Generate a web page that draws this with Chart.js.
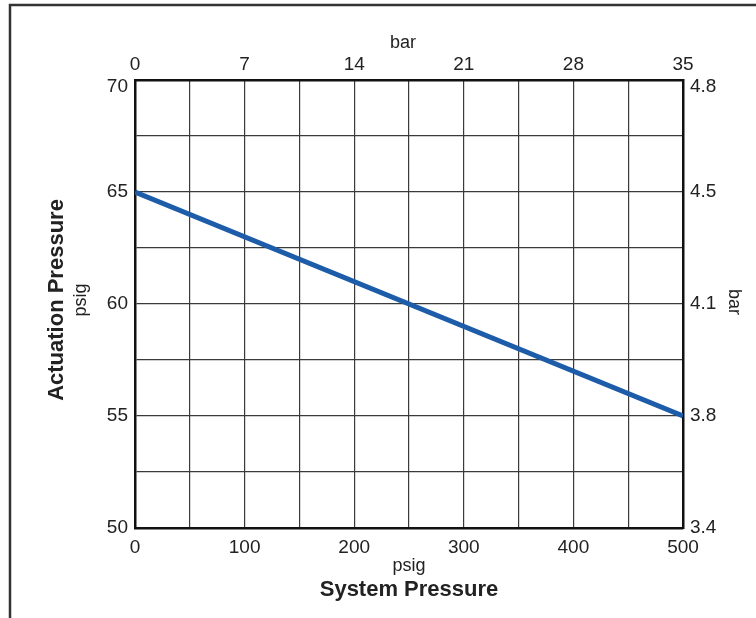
<!DOCTYPE html>
<html>
<head>
<meta charset="utf-8">
<script src="https://cdn.jsdelivr.net/npm/chart.js@4"></script>
<style>
  html, body { margin: 0; padding: 0; background: #fff; }
  canvas { display: block; }
</style>
</head>
<body>
<canvas id="chart" width="756" height="618"></canvas>
<script>
// Data
const systemPsig = [0, 500];
const actuationPsig = [65, 55];
const topBarTicks = [0, 100, 200, 300, 400, 500];
const topBarLabels = ['0', '7', '14', '21', '28', '35'];
const rightBarTicks = [50, 55, 60, 65, 70];
const rightBarLabels = ['3.4', '3.8', '4.1', '4.5', '4.8'];

const FONT = '"Liberation Sans", Arial, Helvetica, sans-serif';
const tickFont = { family: FONT, size: 19 };
const TOP_VALUE = 70; // its labels sit just under the top edge, drawn below

// frame + axis titles
const decor = {
    id: 'decor',
    afterDraw(chart) {
        const ctx = chart.ctx;
        const a = chart.chartArea;
        const cx = (a.left + a.right) / 2;
        const cy = (a.top + a.bottom) / 2;
        ctx.save();
        // outer frame
        ctx.strokeStyle = '#333';
        ctx.lineWidth = 2.5;
        ctx.beginPath();
        ctx.moveTo(10, 618);
        ctx.lineTo(10, 5);
        ctx.lineTo(756, 5);
        ctx.stroke();

        ctx.fillStyle = '#222';
        ctx.textBaseline = 'middle';
        // top-row labels of the two vertical axes, nudged inside like the original
        ctx.font = '19px ' + FONT;
        const yTop = chart.scales.y.getPixelForValue(TOP_VALUE) + 7;
        ctx.textAlign = 'right';
        ctx.fillText(String(TOP_VALUE), a.left - 7, yTop);
        ctx.textAlign = 'left';
        ctx.fillText(rightBarLabels[rightBarTicks.indexOf(TOP_VALUE)], a.right + 7, yTop);

        ctx.textAlign = 'center';
        ctx.font = '18px ' + FONT;
        ctx.fillText('bar', cx - 6, 43);
        ctx.fillText('psig', cx, 566);
        ctx.font = 'bold 22px ' + FONT;
        ctx.fillText('System Pressure', cx, 590);

        ctx.save();
        ctx.translate(57, cy - 4);
        ctx.rotate(-Math.PI / 2);
        ctx.fillText('Actuation Pressure', 0, 0);
        ctx.font = '18px ' + FONT;
        ctx.fillText('psig', 0, 24);
        ctx.restore();

        ctx.save();
        ctx.translate(734, cy - 2);
        ctx.rotate(Math.PI / 2);
        ctx.font = '18px ' + FONT;
        ctx.fillText('bar', 0, 0);
        ctx.restore();
        ctx.restore();
    }
};

new Chart(document.getElementById('chart'), {
    type: 'line',
    data: {
        datasets: [{
            data: systemPsig.map((x, i) => ({ x: x, y: actuationPsig[i] })),
            borderColor: '#1c5ca8',
            borderWidth: 5,
            pointRadius: 0,
            fill: false,
            tension: 0
        }]
    },
    options: {
        responsive: false,
        animation: false,
        devicePixelRatio: 1,
        layout: { padding: 0 },
        plugins: { legend: { display: false }, tooltip: { enabled: false } },
        scales: {
            x: {
                type: 'linear', position: 'bottom', min: 0, max: 500,
                afterFit: s => { s.height = 90; },
                grid: { color: '#3a3a3a', lineWidth: 1.2, drawTicks: false },
                border: { color: '#111', width: 2.5 },
                ticks: {
                    stepSize: 50, padding: 8, color: '#222', font: tickFont, maxRotation: 0,
                    callback: v => (v % 100 === 0 ? String(v) : '')
                }
            },
            xTop: {
                type: 'linear', position: 'top', min: 0, max: 500,
                afterFit: s => { s.height = 80; },
                afterBuildTicks: s => { s.ticks = topBarTicks.map(v => ({ value: v })); },
                grid: { drawOnChartArea: false, drawTicks: false },
                border: { color: '#111', width: 2.5 },
                ticks: {
                    padding: 4, color: '#222', font: tickFont, maxRotation: 0,
                    callback: v => topBarLabels[topBarTicks.indexOf(v)]
                }
            },
            y: {
                type: 'linear', position: 'left', min: 50, max: 70,
                afterFit: s => { s.width = 135; },
                grid: { color: '#3a3a3a', lineWidth: 1.2, drawTicks: false },
                border: { color: '#111', width: 2.5 },
                ticks: {
                    stepSize: 2.5, padding: 7, color: '#222', font: tickFont,
                    callback: v => (v % 5 === 0 && v !== TOP_VALUE ? String(v) : '')
                }
            },
            yRight: {
                type: 'linear', position: 'right', min: 50, max: 70,
                afterFit: s => { s.width = 73; },
                afterBuildTicks: s => { s.ticks = rightBarTicks.map(v => ({ value: v })); },
                grid: { drawOnChartArea: false, drawTicks: false },
                border: { color: '#111', width: 2.5 },
                ticks: {
                    padding: 7, color: '#222', font: tickFont,
                    callback: v => (v === TOP_VALUE ? '' : rightBarLabels[rightBarTicks.indexOf(v)])
                }
            }
        }
    },
    plugins: [decor]
});
</script>
</body>
</html>
